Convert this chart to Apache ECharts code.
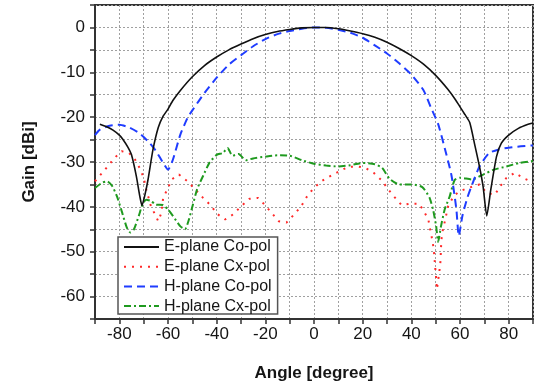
<!DOCTYPE html>
<html>
<head>
<meta charset="utf-8">
<script src="https://cdn.jsdelivr.net/npm/echarts@6/dist/echarts.min.js"></script>
<style>
  html, body { margin: 0; padding: 0; background: #fff; }
  #main { width: 540px; height: 386px; }
</style>
</head>
<body>
<div id="main"></div>
<script>
// angle [degree] / gain [dBi]
const eCoAngle = [-88, -85, -82.6, -80, -78.5, -76.5, -75, -73, -71.6, -70.7, -69.6, -68.2, -66.2, -64, -62, -60, -58, -55, -50, -45, -40, -35, -30, -25, -20, -15, -10, -5, 0, 5, 10, 15, 20, 25, 30, 35, 40, 45, 50, 55, 58, 60, 62, 64, 66, 68, 69.5, 71, 72.7, 75, 77, 80, 84, 88, 90];
const eCoGain = [-21.6, -22.2, -22.9, -24, -25, -26.7, -28.4, -33.2, -37.6, -39.7, -37.6, -33.9, -27.3, -22.3, -19.8, -18.2, -16.3, -14.1, -11, -8.5, -6.6, -5, -3.7, -2.5, -1.6, -0.9, -0.45, -0.1, 0, 0, -0.3, -0.8, -1.4, -2.2, -3.3, -4.7, -6.3, -8.2, -10.7, -13.8, -16, -17.7, -19.4, -21.2, -26, -31, -35.5, -42, -36, -28.8, -25.8, -24, -22.5, -21.6, -21.3];

const eCxAngle = [-90, -87, -84.5, -82, -79, -76, -73.5, -71.5, -70, -69, -67, -65.5, -64, -62.7, -62, -60, -58.5, -55.5, -52, -49, -45.6, -42.2, -40, -36.5, -33.3, -30, -26.5, -23, -20.3, -17.5, -14.5, -11.3, -8, -5.2, -3, -0.4, 3, 6.5, 10.3, 14, 18, 21, 24.5, 28, 30.5, 33.2, 36, 39.3, 43.2, 45.5, 47, 47.6, 48.3, 49, 49.4, 49.7, 50, 50.3, 50.5, 51, 51.5, 52, 52.2, 52.5, 53, 53.7, 55.1, 57.5, 60, 63.3, 68, 71, 74.3, 76.3, 79, 82.5, 86, 90];
const eCxGain = [-34.3, -32.4, -30.8, -29.1, -27.6, -28, -29.5, -31.5, -33.5, -36, -39.9, -41.5, -43.2, -41.3, -38, -35.8, -33.9, -32.8, -34.3, -36, -38, -39.8, -41.5, -42.8, -41.7, -39.9, -38.2, -38, -39.5, -41.3, -43.2, -43.5, -41.6, -39.8, -37.8, -36, -34.3, -33.2, -32.1, -31.1, -31, -31.3, -32.4, -34.2, -36.1, -37.9, -39.6, -39.3, -39.3, -41.3, -42.8, -44.7, -46.5, -48.7, -50.6, -52.8, -54.7, -56.5, -58.4, -56.5, -54.5, -52, -49, -46.5, -45, -43.4, -39.9, -37.5, -36.5, -35.8, -35, -36.9, -37.3, -35.6, -33.6, -32.4, -33.6, -34.5];

const hCoAngle = [-90, -88, -84, -80, -76, -72, -68, -65, -62, -60, -58, -55, -52, -50, -45, -40, -35, -30, -25, -20, -15, -10, -5, 0, 5, 10, 15, 20, 25, 30, 35, 40, 45, 48, 51, 54, 56.5, 58.5, 59.5, 61, 63, 65, 68, 72, 76, 80, 85, 90];
const hCoGain = [-24, -22.8, -21.9, -21.7, -22.3, -23.5, -25.5, -27.5, -30.2, -31.7, -29.5, -24, -20.2, -18.5, -14.6, -11.2, -8.3, -6.2, -4.2, -2.6, -1.5, -0.8, -0.3, 0, -0.1, -0.5, -1.2, -2.3, -4, -5.8, -8, -10.5, -14, -17.8, -21.5, -27.5, -33, -40.5, -46.5, -42, -38, -35, -31, -28, -27.2, -26.8, -26.5, -26.3];

const hCxAngle = [-90, -87, -85, -83, -81, -79, -77, -75.5, -74, -72, -70.5, -69, -67, -65, -62, -60, -58, -55, -53, -51.5, -50, -48, -45.5, -43, -40, -37.5, -35.5, -33.5, -31, -28, -25, -20, -15, -10, -5, 0, 5, 10, 15, 20, 25, 28, 31, 35, 40, 44.5, 47.5, 49, 50.2, 51, 52.2, 53.7, 55.8, 57.8, 60, 65, 69.5, 74, 79, 84.5, 90];
const hCxGain = [-35.8, -34.6, -34.3, -35.3, -37.6, -41, -44.5, -45.7, -45, -42, -39.5, -38.4, -38.7, -39.5, -39.6, -40.6, -42, -44.3, -45, -43, -40, -36, -33, -30.2, -28.4, -28, -26.9, -28.6, -28.2, -29.6, -29.2, -28.8, -28.5, -28.6, -29.6, -30.4, -30.8, -31, -30.7, -30.2, -30.5, -31.3, -33.7, -35, -35, -35.6, -38, -40.8, -44.3, -47.8, -44.3, -40.6, -37.6, -34, -33.5, -33.9, -32.8, -31.7, -31, -30.2, -29.8];

const seriesNames = ['E-plane Co-pol', 'E-plane Cx-pol', 'H-plane Co-pol', 'H-plane Cx-pol'];

function pairs(xs, ys) {
  return xs.map((x, i) => [x, ys[i]]);
}

const chart = echarts.init(document.getElementById('main'), null, { renderer: 'canvas' });
const txt = '#151515';
const font = 'Liberation Sans, Arial, sans-serif';
const gridLine = { show: true, lineStyle: { color: '#a0a0a0', width: 1, type: [2, 2] } };

chart.setOption({
  animation: false,
  backgroundColor: '#fff',
  grid: {
    left: 95, right: 7, top: 5, bottom: 67,
    show: true, borderColor: '#333', borderWidth: 2,
    outerBoundsMode: 'none'
  },
  legend: {
    orient: 'vertical',
    left: 118, top: 237,
    data: seriesNames,
    itemWidth: 35, itemHeight: 14, itemGap: 3.7,
    padding: [2, 6, 0, 5],
    backgroundColor: '#fff',
    borderColor: '#555', borderWidth: 1.5,
    itemStyle: { opacity: 0 },
    textStyle: { fontFamily: font, fontSize: 16, color: txt, lineHeight: 16 }
  },
  xAxis: {
    type: 'value', min: -90, max: 90, interval: 10,
    name: 'Angle [degree]', nameLocation: 'middle', nameGap: 46,
    nameTextStyle: { fontFamily: font, fontSize: 17, fontWeight: 'bold', color: txt },
    axisLine: { show: true, onZero: false, lineStyle: { color: '#333', width: 2 } },
    axisTick: { show: true, length: 5, lineStyle: { color: '#333', width: 1.5 } },
    axisLabel: {
      margin: 7, fontFamily: font, fontSize: 17, color: txt,
      formatter: v => (v % 20 === 0 && Math.abs(v) < 90) ? String(v) : ''
    },
    splitLine: gridLine
  },
  yAxis: {
    type: 'value', min: -65, max: 5, interval: 5,
    name: 'Gain [dBi]', nameLocation: 'middle', nameGap: 57,
    nameTextStyle: { fontFamily: font, fontSize: 17, fontWeight: 'bold', color: txt },
    axisLine: { show: true, onZero: false, lineStyle: { color: '#333', width: 2 } },
    axisTick: { show: true, length: 5, lineStyle: { color: '#333', width: 1.5 } },
    axisLabel: {
      margin: 10, fontFamily: font, fontSize: 17, color: txt,
      formatter: v => (v % 10 === 0 && v <= 0) ? String(v) : ''
    },
    splitLine: gridLine
  },
  series: [
    {
      name: seriesNames[1], type: 'line', symbol: 'none', z: 2,
      data: pairs(eCxAngle, eCxGain),
      lineStyle: { color: '#ff2a2a', width: 2, type: [2, 6] },
      itemStyle: { color: '#ff2a2a' }
    },
    {
      name: seriesNames[3], type: 'line', symbol: 'none', z: 3, smooth: 0.2,
      data: pairs(hCxAngle, hCxGain),
      lineStyle: { color: '#1f9a1f', width: 2, type: [7, 3, 2, 3] },
      itemStyle: { color: '#1f9a1f' }
    },
    {
      name: seriesNames[2], type: 'line', symbol: 'none', z: 4, smooth: 0.2,
      data: pairs(hCoAngle, hCoGain),
      lineStyle: { color: '#1f3cff', width: 2, type: [8, 5] },
      itemStyle: { color: '#1f3cff' }
    },
    {
      name: seriesNames[0], type: 'line', symbol: 'none', z: 5, smooth: 0.2,
      data: pairs(eCoAngle, eCoGain),
      lineStyle: { color: '#111', width: 1.6 },
      itemStyle: { color: '#111' }
    }
  ]
});
</script>
</body>
</html>
